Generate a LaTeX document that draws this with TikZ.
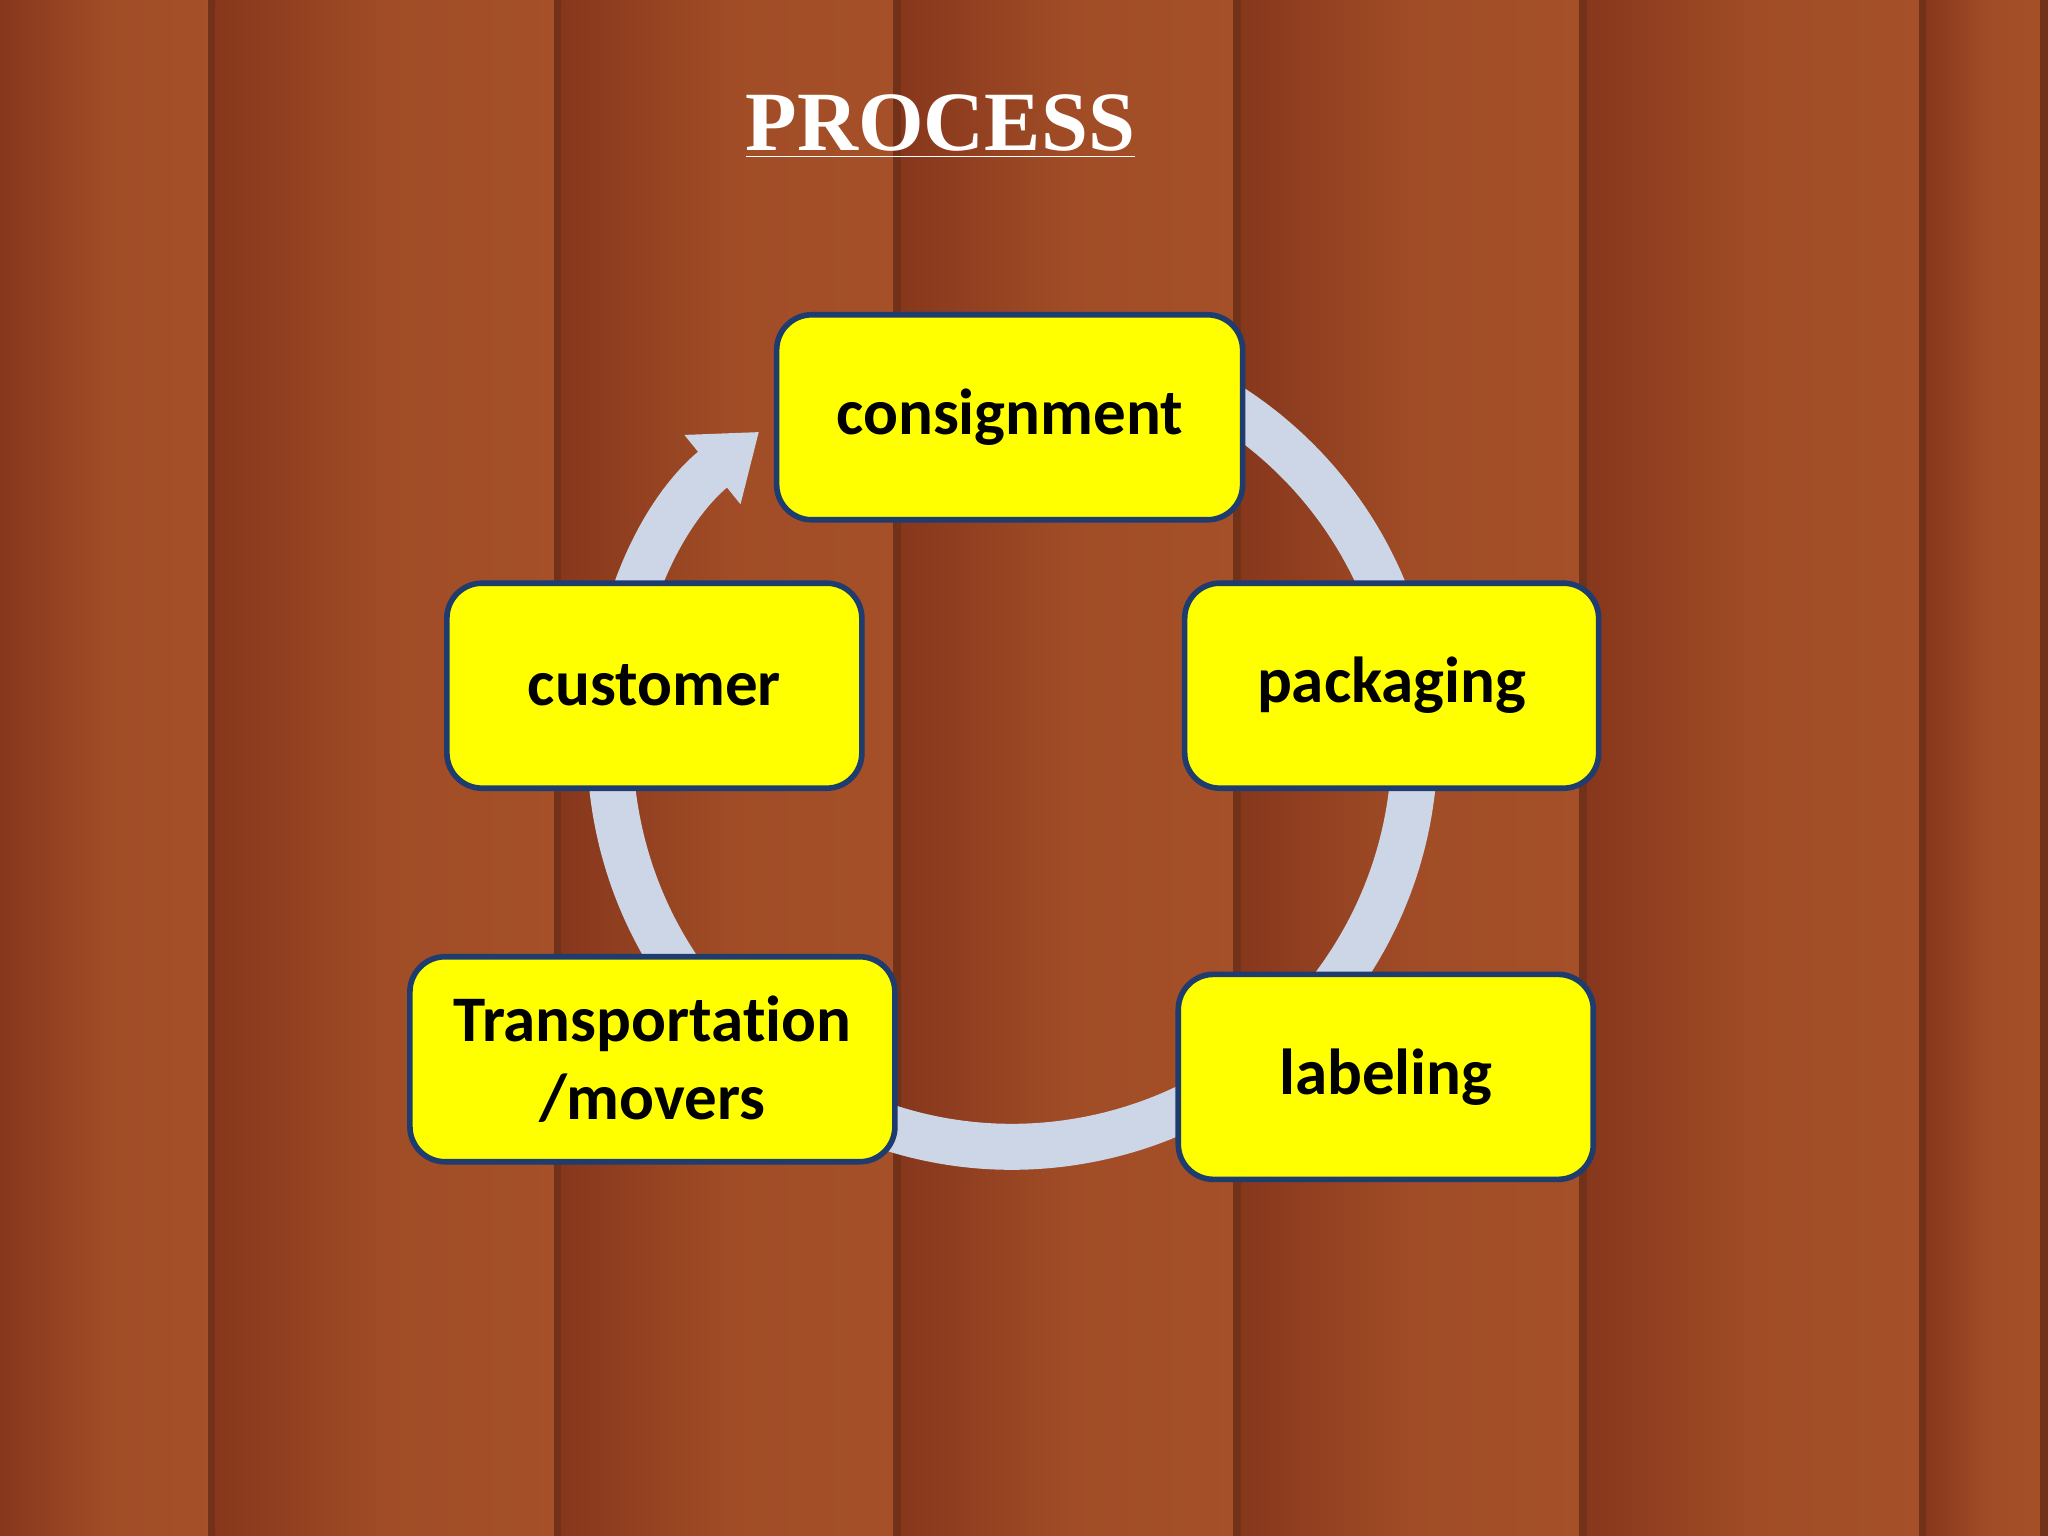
\documentclass[tikz,border=0pt]{standalone}
\usepackage{fontspec}
\setmainfont{Carlito}[Ligatures={NoCommon,NoDiscretionary,NoContextual}]
\newfontfamily\titlefont{Liberation Serif}
\usetikzlibrary{arrows.meta}
\definecolor{woodA}{RGB}{135,55,28}
\definecolor{woodB}{RGB}{165,80,40}
\definecolor{woodD}{RGB}{80,30,15}
\definecolor{ring}{RGB}{205,214,230}
\definecolor{boxline}{RGB}{30,60,110}
\definecolor{yel}{RGB}{255,255,0}
\tikzset{
  box/.style={draw=boxline, line width=1.6pt, fill=yel, rounded corners=10pt,
    minimum height=2.05cm, align=center, font=\bfseries\fontsize{18.5}{22}\selectfont},
  plank/.style={left color=woodA, right color=woodB, middle color=woodB!85!woodA}
}
\begin{document}
\begin{tikzpicture}[x=0.01306cm,y=0.01306cm]
\useasboundingbox (0,0) rectangle (1568,1176);
\fill[woodA] (0,0) rectangle (1568,1176);
\foreach \a/\b in {0/165,165/430,430/690,690/950,950/1215,1215/1475,1475/1568}{
  \shade[plank] (\a,0) rectangle (\b,1176);
  \fill[woodD,opacity=0.6] (\b-6,0) rectangle (\b+6,1176);
}
\draw[ring, line width=0.46cm, -{Triangle[width=0.85cm,length=0.6cm]}]
  (775,606) ++(100:308) arc[start angle=100, end angle=-231, radius=308];
\node[text=white, font=\titlefont\bfseries\fontsize{24}{28}\selectfont] (title) at (720,1079) {\underline{PROCESS}};
\node[box, minimum width=4.66cm] (cons) at (773,856.5) {consignment};
\node[box, minimum width=4.14cm] (pack) at (1065.5,651) {packaging};
\node[box, minimum width=4.15cm] (lab) at (1061,351.5) {labeling};
\node[box, minimum width=4.85cm] (trans) at (499.5,365) {Transportation\\/movers};
\node[box, minimum width=4.15cm] (cust) at (501,651) {customer};
\end{tikzpicture}
\end{document}
